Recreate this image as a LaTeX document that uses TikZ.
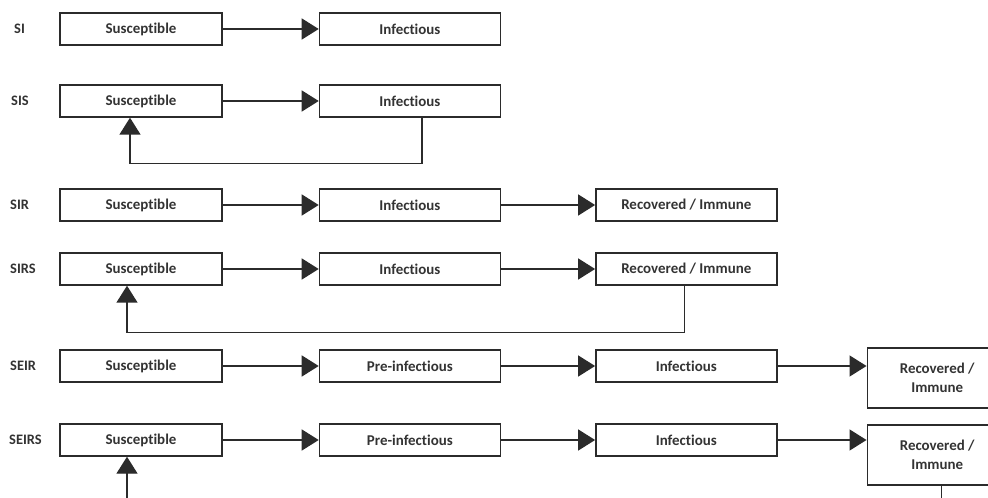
\documentclass[tikz,border=0pt]{standalone}
\usepackage{fontspec}
\setmainfont{Carlito}[Ligatures=NoCommon]
\usepackage{tikz}
\usetikzlibrary{arrows.meta}
\usetikzlibrary{positioning}
\definecolor{edgegray}{HTML}{2B2B2B}
\definecolor{textgray}{HTML}{333333}
\tikzstyle{every node}+=[inner sep=0pt]
\tikzstyle{block} = [rectangle, draw=edgegray, line width=1.4bp, text=textgray, font=\fontsize{15}{19}\selectfont\bfseries, text centered, minimum height=32bp, minimum width=181bp]
\tikzstyle{first} = [block, minimum width=162bp]
\tikzstyle{tall} = [block, minimum width=140bp, minimum height=60bp, align=center]
\tikzstyle{model} = [text=textgray, font=\fontsize{14.5}{17}\selectfont\bfseries, anchor=west]
\tikzstyle{line} = [draw=edgegray, line width=1.4bp, -{Triangle[length=17bp, width=21bp]}]

\begin{document}
\begin{tikzpicture}[x=1bp, y=-1bp]
            \fill [white] (0,0) rectangle (988,498);
            \useasboundingbox (0,0) rectangle (988,498);
            \clip (0,0) rectangle (988,498);
            % Place nodes
            \node [model] (siName) at (14,29) {SI};
            \node [first] (siS) at (141,29) {Susceptible};
            \node [block, right=96bp of siS] (siI) {Infectious};

            \node [model] (sisName) at (11,101) {SIS};
            \node [first] (sisS) at (141,101) {Susceptible};
            \node [block, right=96bp of sisS] (sisI) {Infectious};

            \node [model] (sirName) at (10,205) {SIR};
            \node [first] (sirS) at (141,205) {Susceptible};
            \node [block, right=96bp of sirS] (sirI) {Infectious};
            \node [block, right=94bp of sirI] (sirR) {Recovered / Immune};

            \node [model] (sirsName) at (10,269) {SIRS};
            \node [first] (sirsS) at (141,269) {Susceptible};
            \node [block, right=96bp of sirsS] (sirsI) {Infectious};
            \node [block, right=94bp of sirsI] (sirsR) {Recovered / Immune};

            \node [model] (seirName) at (10,366) {SEIR};
            \node [first] (seirS) at (141,366) {Susceptible};
            \node [block, right=96bp of seirS] (seirP) {Pre-infectious};
            \node [block, right=94bp of seirP] (seirI) {Infectious};
            \node [tall, right=89bp of seirI.north east, anchor=north west, yshift=2bp] (seirR) {Recovered /\\Immune};

            \node [model] (seirsName) at (9,440) {SEIRS};
            \node [first] (seirsS) at (141,440) {Susceptible};
            \node [block, right=96bp of seirsS] (seirsP) {Pre-infectious};
            \node [block, right=94bp of seirsP] (seirsI) {Infectious};
            \node [tall, right=89bp of seirsI.north east, anchor=north west, yshift=-1bp] (seirsR) {Recovered /\\Immune};
            % Draw edges
            \path [line] (siS) -- (siI);
            \path [line] (sisS) -- (sisI);
            \path [line] ([xshift=12bp]sisI.south) -- ++(0,46) -| ([xshift=-11bp]sisS.south);
            \path [line] (sirS) -- (sirI);
            \path [line] (sirI) -- (sirR);
            \path [line] (sirsS) -- (sirsI);
            \path [line] (sirsI) -- (sirsR);
            \path [line] ([xshift=-2bp]sirsR.south) -- ++(0,47) -| ([xshift=-14bp]sirsS.south);
            \path [line] (seirS) -- (seirP);
            \path [line] (seirP) -- (seirI);
            \path [line] (seirI.east) -- (seirI.east -| seirR.west);
            \path [line] (seirsS) -- (seirsP);
            \path [line] (seirsP) -- (seirsI);
            \path [line] (seirsI.east) -- (seirsI.east -| seirsR.west);
            \path [line] ([xshift=4bp]seirsR.south) -- ++(0,45) -| ([xshift=-14bp]seirsS.south);
          \end{tikzpicture}
\end{document}
